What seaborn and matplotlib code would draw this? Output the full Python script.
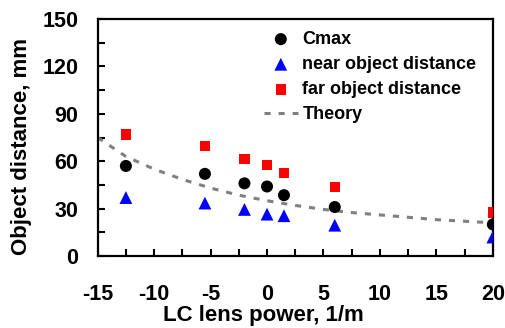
import matplotlib
matplotlib.use("Agg")
import matplotlib.pyplot as plt
import seaborn as sns
import pandas as pd
from matplotlib.ticker import MultipleLocator

# Data
lens_power = [-12.5, -5.5, -2, 0, 1.5, 6, 20]
cmax = [57, 52, 46, 44, 38.5, 31, 20]
near_dist = [37, 33.5, 29.5, 26.5, 25.5, 19.5, 12]
far_dist = [77, 69.5, 61.5, 57.5, 52.5, 43.5, 27.5]

theory_x = [-15, -12.5, -10, -7.5, -5, -2.5, 0, 2.5, 5, 7.5, 10, 12.5, 15, 17.5, 20]
theory_y = [75, 63, 55, 48.5, 43, 38.5, 35, 32, 29.5, 27.5, 26, 24.5, 23, 22, 21]

sns.set_theme(style="white")
plt.rcParams['font.family'] = ['Liberation Sans', 'DejaVu Sans']
plt.rcParams['font.weight'] = 'bold'
plt.rcParams['axes.unicode_minus'] = False

fig = plt.figure(figsize=(5.06, 3.28), dpi=100)
ax = fig.add_axes([0.193, 0.2195, 0.781, 0.7225])

df_pts = pd.DataFrame({"x": lens_power, "cmax": cmax, "near": near_dist, "far": far_dist})
df_th = pd.DataFrame({"x": theory_x, "y": theory_y})

sns.lineplot(data=df_th, x="x", y="y", ax=ax, color="#808080", lw=2.2,
             dashes=False, linestyle=(0, (2.0, 2.6)), label="Theory", zorder=2)
sns.scatterplot(data=df_pts, x="x", y="cmax", ax=ax, marker="o", color="black",
                s=75, edgecolor="none", label="Cmax", zorder=3)
sns.scatterplot(data=df_pts, x="x", y="near", ax=ax, marker="^", color="#0000FF",
                s=85, edgecolor="none", label="near object distance", zorder=3)
sns.scatterplot(data=df_pts, x="x", y="far", ax=ax, marker="s", color="#FF0000",
                s=55, edgecolor="none", label="far object distance", zorder=3)

ax.set_xlim(-15, 20)
ax.set_ylim(0, 150)
ax.xaxis.set_major_locator(MultipleLocator(5))
ax.xaxis.set_minor_locator(MultipleLocator(2.5))
ax.yaxis.set_major_locator(MultipleLocator(30))
ax.yaxis.set_minor_locator(MultipleLocator(15))

ax.tick_params(axis="both", which="both", direction="in", width=1.5, colors="black",
               labelsize=15.5, top=False, right=False)
ax.tick_params(axis="both", which="major", length=5)
ax.tick_params(axis="both", which="minor", length=5)
ax.tick_params(axis="x", which="major", pad=20, bottom=True)
ax.tick_params(axis="x", which="minor", bottom=True)
ax.tick_params(axis="y", which="major", pad=14, left=True)
ax.tick_params(axis="y", which="minor", left=True)
for lab in ax.get_xticklabels() + ax.get_yticklabels():
    lab.set_fontweight("bold")

for sp in ax.spines.values():
    sp.set_visible(True)
    sp.set_color("black")
    sp.set_linewidth(1.6)

ax.set_xlabel("LC lens power, 1/m", fontsize=16, fontweight="bold", color="black")
ax.set_ylabel("Object distance, mm", fontsize=16, fontweight="bold", color="black")
ax.xaxis.set_label_coords(0.42, -0.205)
ax.yaxis.set_label_coords(-0.165, 0.46)

handles, labels = ax.get_legend_handles_labels()
order = [labels.index(l) for l in ["Cmax", "near object distance", "far object distance", "Theory"]]
leg = ax.legend([handles[i] for i in order], [labels[i] for i in order],
                loc="upper left", bbox_to_anchor=(0.42, 0.95), frameon=False,
                fontsize=13, borderpad=0, borderaxespad=0, handlelength=1.9,
                handletextpad=0.25, labelspacing=0.45)
for t in leg.get_texts():
    t.set_fontweight("bold")
    t.set_color("black")

fig.savefig("out.png", dpi=100)
